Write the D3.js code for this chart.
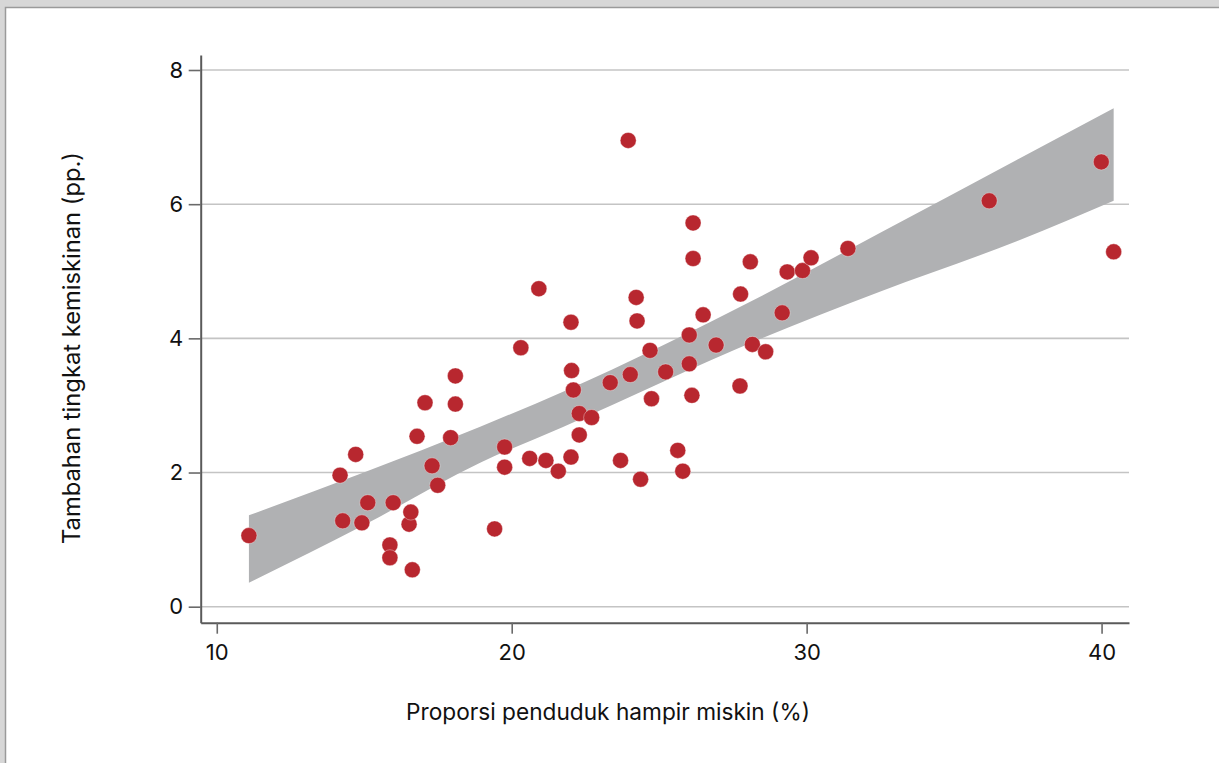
<!DOCTYPE html>
<html>
<head>
<meta charset="utf-8">
<script src="https://cdn.jsdelivr.net/npm/d3@7"></script>
<style>
  html, body { margin: 0; padding: 0; background: #d7d7d7; }
  svg { display: block; }
  text { font-family: Inter, "Noto Sans", sans-serif; fill: #111; }
</style>
</head>
<body>
<svg id="chart" width="1219" height="763"></svg>
<script>
// Near-poor share (%) per region vs. additional poverty rate (pp.)
const nearPoorShare = [11.09,14.18,14.27,14.71,14.92,15.12,15.87,15.87,15.98,16.52,
  16.58,16.63,16.79,17.06,17.30,17.49,17.93,18.09,18.09,19.42,
  19.76,19.76,20.31,20.61,20.92,21.16,21.58,22.01,22.03,22.01,
  22.09,22.29,22.29,22.71,23.34,23.69,23.95,24.02,24.22,24.25,
  24.37,24.69,24.74,25.22,25.63,25.80,26.02,26.02,26.11,26.15,
  26.15,26.49,26.93,27.76,27.74,28.09,28.16,28.61,29.17,29.34,
  29.86,30.15,31.40,36.19,39.99,40.41];
const povertyIncrease = [1.06,1.96,1.28,2.27,1.25,1.55,0.92,0.73,1.55,1.23,
  1.41,0.55,2.54,3.04,2.10,1.81,2.52,3.44,3.02,1.16,
  2.38,2.08,3.86,2.21,4.74,2.18,2.02,4.24,3.52,2.23,
  3.23,2.88,2.56,2.82,3.34,2.18,6.95,3.46,4.61,4.26,
  1.90,3.82,3.10,3.50,2.33,2.02,4.05,3.62,3.15,5.72,
  5.19,4.35,3.90,4.66,3.29,5.14,3.91,3.80,4.38,4.99,
  5.01,5.20,5.34,6.05,6.63,5.29];

// Confidence band of the linear fit
const bandX     = [11.09, 14.96, 18.93, 21.74, 28.42, 32.48, 37.23, 40.41];
const bandUpper = [1.362, 1.997, 2.683, 3.205, 4.621, 5.570, 6.684, 7.429];
const bandLower = [0.358, 1.210, 2.146, 2.679, 3.990, 4.695, 5.466, 6.052];

const xTicks = [10, 20, 30, 40];
const yTicks = [0, 2, 4, 6, 8];
const xTitle = "Proporsi penduduk hampir miskin (%)";
const yTitle = "Tambahan tingkat kemiskinan (pp.)";

const svg = d3.select("#chart");

// page frame
svg.append("rect").attr("x", 0).attr("y", 0).attr("width", 1219).attr("height", 763).attr("fill", "#d7d7d7");
svg.append("rect").attr("x", 5.5).attr("y", 7.5).attr("width", 1220).attr("height", 770)
  .attr("fill", "#fff").attr("stroke", "#9a9a9a").attr("stroke-width", 1.5);

const x = d3.scaleLinear().domain([9.455, 40.93]).range([200.7, 1129]);
const y = d3.scaleLinear().domain([-0.2385, 8.2236]).range([622.7, 55]);

// horizontal gridlines
svg.append("g").selectAll("line").data(yTicks).join("line")
  .attr("x1", x.range()[0]).attr("x2", x.range()[1])
  .attr("y1", d => y(d)).attr("y2", d => y(d))
  .attr("stroke", "#c4c4c4").attr("stroke-width", 1.6);

// confidence band
const bandRows = bandX.map((v, i) => ({ x: v, lo: bandLower[i], hi: bandUpper[i] }));
svg.append("path").datum(bandRows)
  .attr("fill", "#b0b1b3")
  .attr("d", d3.area().x(d => x(d.x)).y0(d => y(d.lo)).y1(d => y(d.hi)).curve(d3.curveMonotoneX));

// axes
const xAxis = svg.append("g").attr("transform", `translate(0,${y.range()[0]})`)
  .call(d3.axisBottom(x).tickValues(xTicks).tickSize(11).tickPadding(11).tickSizeOuter(0));
const yAxis = svg.append("g").attr("transform", `translate(${x.range()[0]},0)`)
  .call(d3.axisLeft(y).tickValues(yTicks).tickSize(12).tickPadding(5.5).tickSizeOuter(0));
[xAxis, yAxis].forEach(g => {
  g.select(".domain").attr("stroke", "#5a5a5a").attr("stroke-width", 2);
  g.selectAll(".tick line").attr("stroke", "#6a6a6a").attr("stroke-width", 1.6);
  g.selectAll(".tick text").attr("font-size", 22).attr("fill", "#111")
    .attr("font-family", "Inter, 'Noto Sans', sans-serif");
});

// points
const pts = nearPoorShare.map((v, i) => ({ x: v, y: povertyIncrease[i] }));
svg.append("g").selectAll("circle").data(pts).join("circle")
  .attr("cx", d => x(d.x)).attr("cy", d => y(d.y)).attr("r", 8)
  .attr("fill", "#b8272f").attr("stroke", "#fff").attr("stroke-width", 0.6).attr("stroke-opacity", 0.6);

// axis titles, sized to their span
function fitText(sel, target) {
  sel.attr("font-size", 20);
  const w = sel.node().getComputedTextLength();
  sel.attr("font-size", 20 * target / w);
}
const xt = svg.append("text").attr("x", 608).attr("y", 720).attr("text-anchor", "middle").text(xTitle);
fitText(xt, 404);
const yt = svg.append("text").attr("transform", "translate(80,348) rotate(-90)")
  .attr("text-anchor", "middle").text(yTitle);
fitText(yt, 392);
</script>
</body>
</html>
